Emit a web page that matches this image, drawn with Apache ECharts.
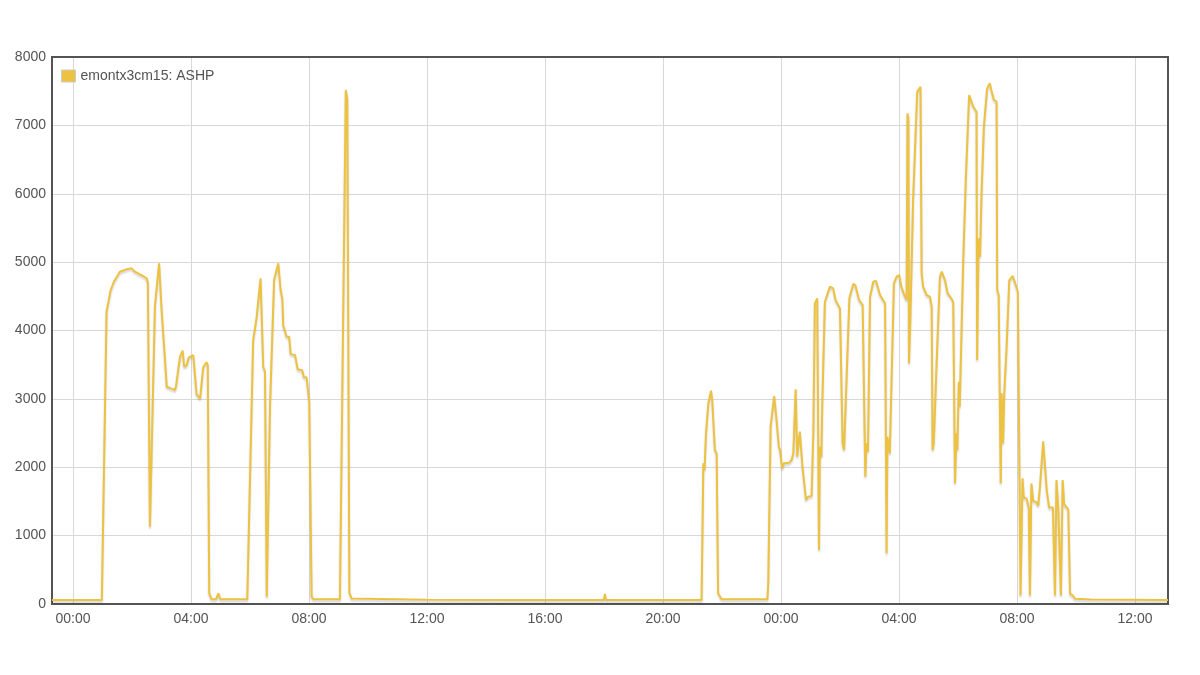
<!DOCTYPE html>
<html>
<head>
<meta charset="utf-8">
<script src="https://cdn.jsdelivr.net/npm/echarts@6/dist/echarts.min.js"></script>
<style>
  html, body { margin: 0; padding: 0; background: #fff; }
  #main { width: 1200px; height: 675px; }
</style>
</head>
<body>
<div id="main"></div>
<script>
// hours since first midnight, power in watts
const hours = [
  -0.71, 0.5, 0.98, 1.14, 1.28, 1.39, 1.59, 1.82, 1.99, 2.10, 2.27, 2.38, 2.50, 2.54, 2.61,
  2.78, 2.92, 3.00, 3.18, 3.34, 3.40, 3.46, 3.50, 3.63, 3.72, 3.77, 3.85, 3.93, 4.08, 4.12,
  4.19, 4.31, 4.42, 4.53, 4.57, 4.62, 4.70, 4.85, 4.93, 5.00, 5.91, 6.11, 6.23, 6.36, 6.45,
  6.51, 6.57, 6.68, 6.82, 6.96, 7.04, 7.10, 7.13, 7.18, 7.24, 7.33, 7.38, 7.53, 7.62, 7.77,
  7.83, 7.92, 8.01, 8.09, 8.15, 9.05, 9.25, 9.30, 9.37, 9.45, 12.0, 15.0, 18.0, 18.03, 18.07,
  21.31, 21.37, 21.41, 21.46, 21.54, 21.63, 21.67, 21.76, 21.82, 21.87, 21.99, 23.54, 23.57, 23.65,
  23.77, 23.84, 23.93, 23.97, 24.04, 24.10, 24.28, 24.36, 24.42, 24.50, 24.55, 24.64, 24.73, 24.85,
  24.92, 25.04, 25.10, 25.15, 25.23, 25.29, 25.32, 25.37, 25.40, 25.49, 25.66, 25.77, 25.85, 26.00,
  26.09, 26.14, 26.32, 26.45, 26.52, 26.65, 26.77, 26.86, 26.90, 26.95, 27.02, 27.13, 27.22, 27.36,
  27.53, 27.58, 27.61, 27.69, 27.83, 27.92, 28.01, 28.08, 28.16, 28.26, 28.29, 28.32, 28.34, 28.38,
  28.48, 28.62, 28.73, 28.77, 28.82, 28.94, 29.05, 29.11, 29.14, 29.18, 29.26, 29.39, 29.45, 29.56,
  29.65, 29.73, 29.84, 29.90, 29.95, 29.98, 30.03, 30.06, 30.10, 30.18, 30.27, 30.38, 30.42, 30.52,
  30.63, 30.65, 30.70, 30.75, 30.80, 30.88, 30.99, 31.08, 31.13, 31.22, 31.31, 31.33, 31.38, 31.45,
  31.48, 31.53, 31.57, 31.65, 31.74, 31.86, 31.94, 32.03, 32.12, 32.19, 32.23, 32.33, 32.40, 32.44,
  32.49, 32.55, 32.67, 32.72, 32.78, 32.89, 33.01, 33.09, 33.22, 33.29, 33.34, 33.40, 33.49, 33.55,
  33.60, 33.66, 33.74, 33.80, 33.89, 33.97, 34.5, 37.12
];
const watts = [
  60, 58, 60, 4275, 4590, 4713, 4860, 4895, 4909, 4860, 4820, 4797, 4763, 4700, 1130,
  4348, 4982, 4348, 3178, 3150, 3160, 3130, 3200, 3617, 3705, 3470, 3490, 3607, 3640, 3650,
  3071, 3003, 3470, 3535, 3500, 156, 70, 70, 156, 70, 70, 3860, 4200, 4763, 3470,
  3400, 107, 2885, 4738, 4982, 4592, 4455, 4066, 4007, 3910, 3910, 3656, 3640, 3432, 3420,
  3315, 3315, 2958, 107, 70, 70, 7520, 7387, 166, 80, 62, 60, 60, 146, 60,
  60, 2057, 1960, 2496, 2935, 3120, 2984, 2252, 2203, 156, 70, 70, 302, 2593,
  3042, 2740, 2300, 2250, 1984, 2057, 2067, 2106, 2203, 3139, 2155, 2520, 2008, 1521,
  1570, 1580, 2545, 4397, 4470, 790, 2300, 2150, 2900, 4421, 4641, 4616, 4446, 4324,
  2350, 2252, 4470, 4680, 4665, 4446, 4372, 1862, 2350, 2230, 4494, 4714, 4729, 4519,
  4397, 741, 2447, 2203, 4690, 4787, 4811, 4641, 4544, 4446, 7176, 7100, 3520, 4056,
  5908, 7492, 7566, 4836, 4641, 4519, 4494, 4348, 2252, 2350, 3324, 4787, 4860, 4738,
  4544, 4500, 4421, 1765, 2496, 2252, 3251, 2885, 2885, 5031, 6249, 7444, 7395, 7273,
  7200, 3568, 5348, 5079, 6006, 6980, 7541, 7615, 7517, 7371, 7346, 4592, 4519, 1765,
  3081, 2350, 3081, 3763, 4738, 4797, 4690, 4567, 126, 1839, 1562, 1537, 1411, 126,
  1763, 1511, 1486, 1436, 1713, 2378, 1662, 1411, 1411, 126, 1814, 1411, 126, 1814,
  1461, 1486, 1385, 151, 126, 76, 65, 60
];
const yTicks = [0, 1000, 2000, 3000, 4000, 5000, 6000, 7000, 8000];
const seriesName = "emontx3cm15: ASHP";

const HOUR = 3600 * 1000;
const base = new Date(2024, 0, 15, 0, 0, 0).getTime();
const points = hours.map((h, i) => [base + h * HOUR, watts[i]]);

const chart = echarts.init(document.getElementById("main"), null, { renderer: "canvas" });
const font = "'Liberation Sans', Arial, sans-serif";
const frame = { show: true, onZero: false, lineStyle: { color: "#545454", width: 2 } };

chart.setOption({
  animation: false,
  backgroundColor: "#fff",
  textStyle: { fontFamily: font },
  legend: {
    data: [seriesName],
    left: 56,
    top: 64,
    itemWidth: 14,
    itemHeight: 12,
    itemGap: 5,
    icon: "rect",
    textStyle: { fontSize: 14, color: "#545454", fontFamily: font },
    itemStyle: { borderColor: "#cccccc", borderWidth: 1 }
  },
  grid: {
    left: 52,
    right: 32,
    top: 57,
    bottom: 71,
    show: true,
    borderColor: "#545454",
    borderWidth: 2,
    backgroundColor: "transparent"
  },
  xAxis: [
    {
      type: "time",
      min: base - 0.71 * HOUR,
      max: base + 37.12 * HOUR,
      minInterval: 4 * HOUR,
      maxInterval: 4 * HOUR,
      axisLine: frame,
      axisTick: { show: false },
      splitLine: { show: true, lineStyle: { color: "#d8d8d8", width: 1 } },
      axisLabel: {
        formatter: "{HH}:{mm}",
        fontSize: 14,
        color: "#545454",
        margin: 8,
        fontWeight: "normal"
      }
    },
    {
      type: "time",
      position: "top",
      min: base - 0.71 * HOUR,
      max: base + 37.12 * HOUR,
      axisLine: frame,
      axisTick: { show: false },
      axisLabel: { show: false },
      splitLine: { show: false }
    }
  ],
  yAxis: [
    {
      type: "value",
      min: yTicks[0],
      max: yTicks[yTicks.length - 1],
      interval: 1000,
      axisLine: frame,
      axisTick: { show: false },
      splitLine: { show: true, lineStyle: { color: "#d8d8d8", width: 1 } },
      axisLabel: { fontSize: 14, color: "#545454", margin: 6, formatter: (v) => String(v) }
    },
    {
      type: "value",
      position: "right",
      min: yTicks[0],
      max: yTicks[yTicks.length - 1],
      axisLine: frame,
      axisTick: { show: false },
      axisLabel: { show: false },
      splitLine: { show: false }
    }
  ],
  series: [
    {
      name: seriesName,
      type: "line",
      data: points,
      showSymbol: false,
      color: "#edc240",
      lineStyle: {
        color: "#edc240",
        width: 2,
        shadowColor: "rgba(0,0,0,0.18)",
        shadowBlur: 2,
        shadowOffsetY: 2
      }
    }
  ]
});
</script>
</body>
</html>
